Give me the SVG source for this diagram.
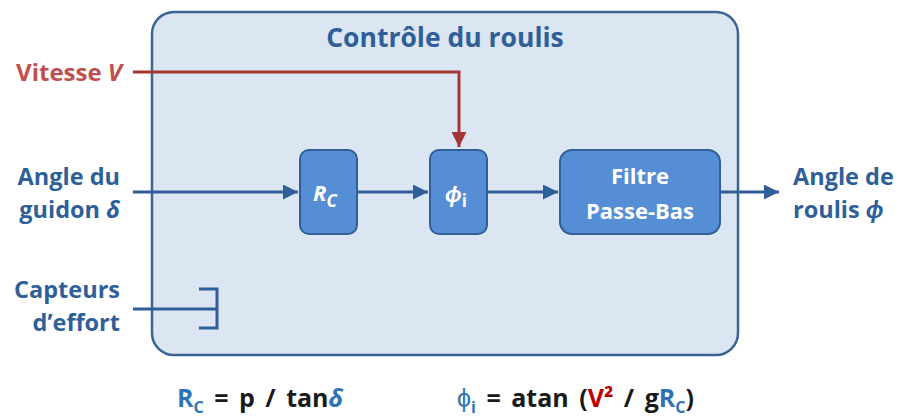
<svg xmlns="http://www.w3.org/2000/svg" width="899" height="418" viewBox="0 0 899 418">
<defs>
<marker id="ab" viewBox="0 0 10 10" refX="10" refY="5" markerWidth="5" markerHeight="5" markerUnits="strokeWidth" orient="auto"><path d="M0,0 L10,5 L0,10 z" fill="#2F5F98"/></marker>
<marker id="ar" viewBox="0 0 10 10" refX="10" refY="5" markerWidth="5" markerHeight="5" markerUnits="strokeWidth" orient="auto"><path d="M0,0 L10,5 L0,10 z" fill="#A23535"/></marker>
</defs>
<style>
text{font-family:"Open Sans","Liberation Sans",sans-serif;font-weight:bold}
.lbl{fill:#2F5F98;font-size:23.5px}
.blk{fill:#558ED5;stroke:#2F5F98;stroke-width:2}
.bt{fill:#fff;font-size:22px}
.ln{stroke:#2F5F98;stroke-width:3;fill:none}
.fm{font-size:25px;fill:#1a1a1a;word-spacing:4px}
</style>
<g id="container">
<rect x="152" y="12" width="586" height="343" rx="22" fill="#DCE6F2" stroke="#3A6596" stroke-width="2.5"/>
<text x="445" y="47" text-anchor="middle" fill="#2F5F98" font-size="26.5">Contrôle du roulis</text>
</g>
<g id="connectors">
<path class="ln" d="M133 192 H298" marker-end="url(#ab)"/>
<path class="ln" d="M357 192 H428" marker-end="url(#ab)"/>
<path class="ln" d="M487 192 H558" marker-end="url(#ab)"/>
<path class="ln" d="M720 192 H779" marker-end="url(#ab)"/>
<path d="M133 72 H459 V147" fill="none" stroke="#A23535" stroke-width="3" marker-end="url(#ar)"/>
<path class="ln" d="M133 309 H217"/>
<path class="ln" d="M199 289 H217 V328 H199"/>
</g>
<g id="vitesse">
<text x="122" y="81" text-anchor="end" fill="#C0504D" font-size="24">Vitesse <tspan font-style="italic">V</tspan></text>
</g>
<g id="angle-guidon">
<text x="120" y="185" text-anchor="end" class="lbl">Angle du</text>
<text x="120" y="218" text-anchor="end" class="lbl">guidon <tspan font-style="italic">δ</tspan></text>
</g>
<g id="capteurs">
<text x="120" y="298" text-anchor="end" class="lbl">Capteurs</text>
<text x="120" y="331" text-anchor="end" class="lbl">d’effort</text>
</g>
<g id="rc">
<rect class="blk" x="300" y="150" width="57" height="84" rx="9"/>
<text x="313" y="201" class="bt" font-style="italic" font-size="26.5">R<tspan font-size="17" dy="6">C</tspan></text>
</g>
<g id="phi-i">
<rect class="blk" x="430" y="150" width="57" height="84" rx="9"/>
<text x="445" y="202" class="bt" font-style="italic" font-size="26">ϕ<tspan font-style="normal" font-size="17" dy="5">i</tspan></text>
</g>
<g id="filtre">
<rect class="blk" x="560" y="150" width="160" height="84" rx="12"/>
<text x="640" y="184" text-anchor="middle" class="bt">Filtre</text>
<text x="640" y="219" text-anchor="middle" class="bt">Passe-Bas</text>
</g>
<g id="angle-roulis">
<text x="793" y="185" class="lbl">Angle de</text>
<text x="793" y="218" class="lbl">roulis <tspan font-style="italic">ϕ</tspan></text>
</g>
<g id="formulas">
<text x="177" y="407" class="fm"><tspan fill="#2E74B5">R</tspan><tspan fill="#2E74B5" font-size="16" dy="6">C</tspan><tspan dy="-6"> = p / tan</tspan><tspan fill="#2E74B5" font-style="italic">δ</tspan></text>
<text x="457" y="407" class="fm"><tspan fill="#2E74B5" font-weight="normal">ϕ</tspan><tspan fill="#2E74B5" font-size="16" dy="6">i</tspan><tspan dy="-6"> = atan (</tspan><tspan fill="#C00000">V²</tspan><tspan> / g</tspan><tspan fill="#2E74B5">R</tspan><tspan fill="#2E74B5" font-size="16" dy="6">C</tspan><tspan dy="-6">)</tspan></text>
</g>
</svg>
